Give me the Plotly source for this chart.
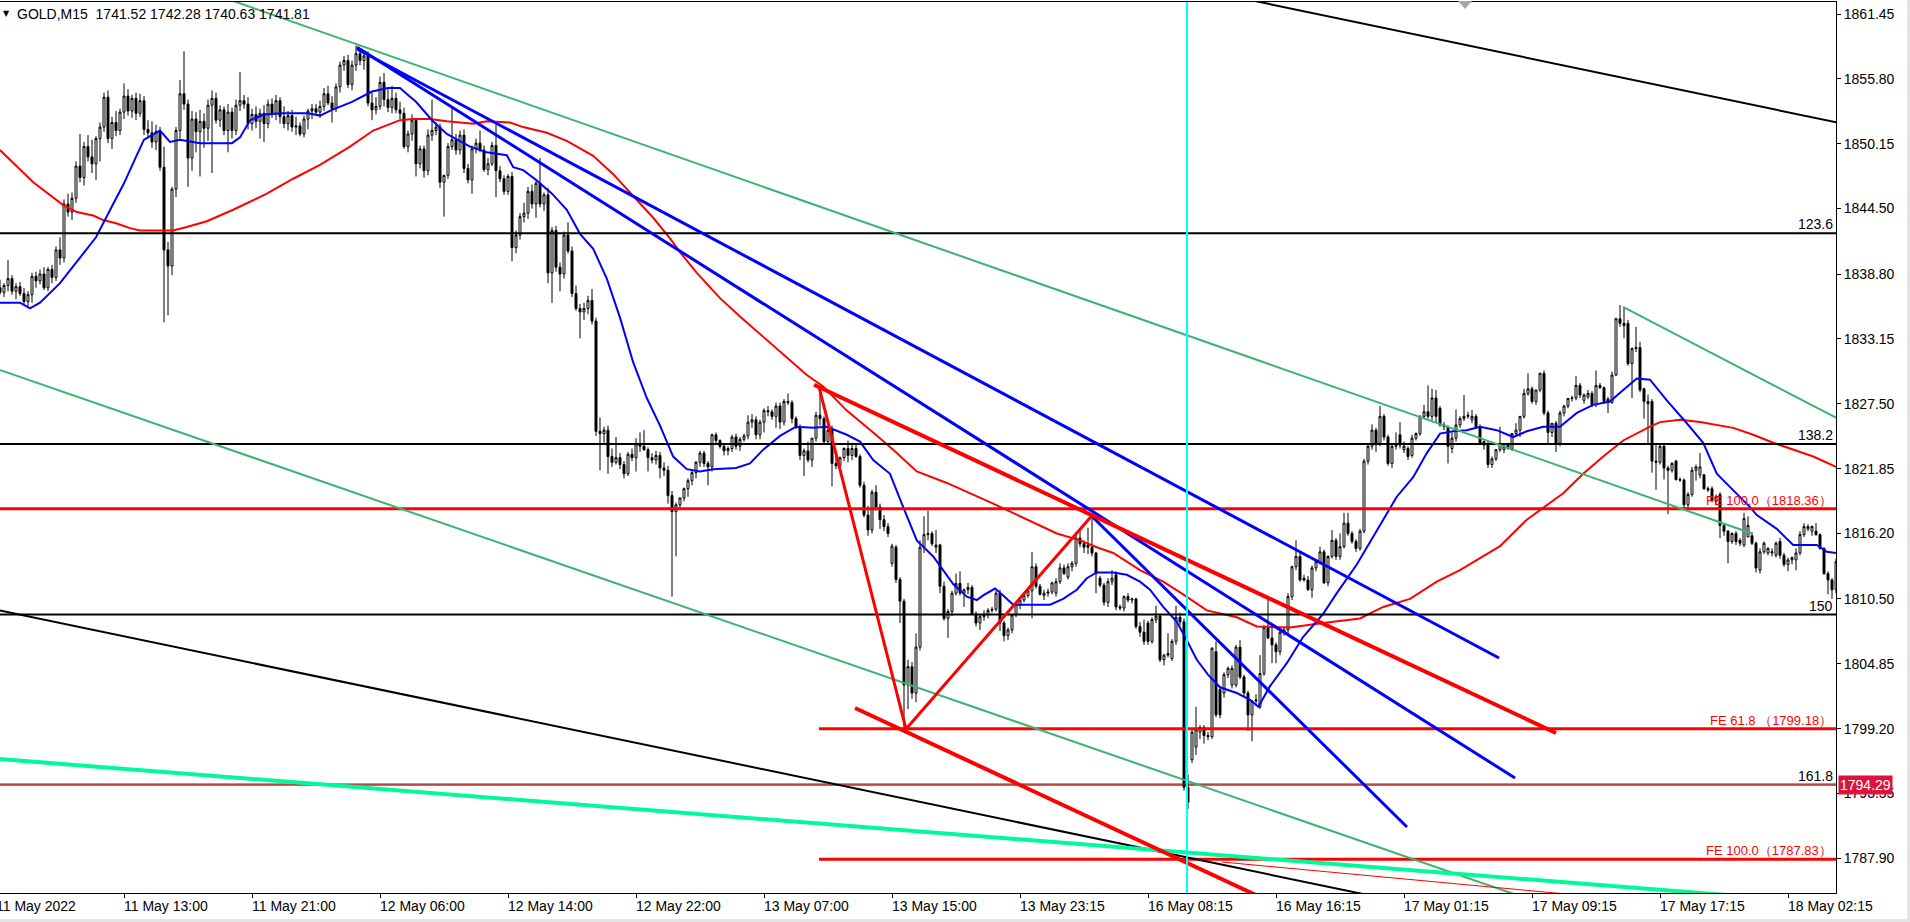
import plotly.graph_objects as go

# ---------------- data (bar index = one M15 bar) ----------------
opens = [
1837.6,1837.2,1837.8,1838.4,1837.3,1837.7,1837.1,1836.4,1837.0,1838.6,
1838.2,1838.8,1837.6,1839.2,1838.5,1840.9,1840.2,1844.9,1844.2,1845.4,
1848.2,1847.2,1849.9,1849.0,1848.4,1850.6,1851.6,1854.2,1850.6,1852.0,
1851.3,1852.9,1854.3,1853.0,1854.1,1852.8,1853.9,1851.4,1851.1,1850.3,
1851.2,1848.1,1840.9,1839.5,1846.2,1851.3,1854.5,1853.6,1848.9,1852.3,
1851.2,1852.1,1851.5,1853.5,1854.1,1852.2,1853.1,1851.3,1852.9,1851.3,
1853.5,1853.9,1853.6,1851.9,1852.7,1852.1,1852.8,1851.9,1853.6,1852.8,
1853.9,1852.5,1851.9,1852.6,1851.6,1851.7,1851.0,1852.3,1853.0,1853.2,
1852.9,1853.4,1854.5,1853.7,1853.2,1855.1,1857.0,1857.4,1855.3,1857.0,
1858.0,1857.4,1857.8,1853.7,1853.1,1853.4,1855.5,1854.0,1853.3,1854.1,
1853.1,1852.8,1849.9,1851.0,1852.2,1848.4,1849.7,1847.8,1850.9,1851.3,
1851.6,1846.8,1847.4,1849.9,1850.5,1849.6,1850.9,1848.0,1847.0,1849.7,
1850.2,1849.6,1847.9,1848.4,1850.0,1847.8,1847.1,1846.0,1847.3,1841.1,
1842.2,1843.8,1844.1,1846.0,1844.9,1846.7,1844.9,1845.7,1838.9,1842.6,
1839.4,1838.8,1842.2,1840.8,1837.1,1835.8,1835.5,1835.8,1836.5,1834.7,
1825.1,1824.9,1825.2,1822.9,1822.4,1822.8,1822.2,1821.4,1823.1,1822.8,
1824.0,1823.8,1823.5,1822.8,1822.6,1823.0,1821.9,1821.7,1819.5,1818.1,
1818.7,1819.3,1820.1,1820.8,1821.5,1822.4,1823.2,1822.3,1822.0,1824.8,
1824.3,1823.8,1823.4,1823.6,1824.6,1823.8,1824.4,1824.7,1825.9,1826.1,
1824.8,1825.9,1826.9,1826.8,1826.4,1827.3,1825.9,1827.7,1827.6,1826.2,
1825.5,1823.0,1823.4,1822.6,1824.5,1826.5,1826.2,1824.2,1825.2,1822.3,
1822.1,1822.8,1823.6,1823.0,1823.6,1822.9,1820.4,1817.8,1816.5,1819.8,
1818.5,1817.4,1816.8,1813.6,1815.0,1812.2,1810.3,1803.0,1804.6,1802.3,
1806.3,1815.0,1816.1,1816.2,1815.0,1815.2,1811.6,1808.8,1809.4,1811.0,
1811.85,1811.0,1811.3,1811.5,1809.2,1808.4,1808.95,1809.1,1809.5,1809.6,
1811.0,1808.4,1807.3,1807.8,1809.1,1810.0,1810.4,1810.8,1811.2,1813.3,
1811.6,1810.8,1811.0,1811.1,1811.0,1812.0,1813.2,1812.4,1813.3,1813.6,
1815.8,1815.3,1815.2,1815.0,1814.5,1812.3,1811.7,1810.2,1812.0,1812.6,
1809.8,1809.7,1810.7,1810.4,1810.5,1808.1,1807.6,1808.4,1806.8,1808.7,
1809.0,1805.2,1805.6,1805.3,1806.8,1808.9,1808.5,1794.1,1796.5,1797.6,
1798.9,1799.3,1798.6,1798.5,1805.9,1802.6,1802.3,1803.9,1803.0,1803.0,
1806.3,1803.7,1802.3,1800.4,1801.6,1801.1,1804.0,1808.0,1807.1,1806.5,
1805.9,1807.6,1807.8,1810.7,1813.3,1814.2,1812.3,1812.15,1811.3,1813.2,
1813.75,1814.6,1811.9,1814.2,1815.6,1814.2,1815.05,1817.1,1816.2,1815.5,
1814.9,1816.4,1822.5,1823.8,1825.2,1824.05,1826.4,1824.6,1822.3,1823.8,
1824.8,1823.5,1823.6,1823.0,1824.5,1824.9,1826.4,1826.8,1826.4,1828.0,
1827.1,1825.65,1825.5,1823.6,1824.5,1825.65,1826.2,1826.4,1826.1,1826.4,
1825.5,1823.9,1823.9,1822.2,1822.7,1823.5,1823.5,1823.9,1823.6,1824.9,
1825.2,1826.4,1828.4,1828.8,1827.7,1828.7,1830.15,1826.7,1825.0,1825.8,
1824.05,1826.7,1827.3,1827.96,1828.0,1829.1,1827.8,1828.1,1828.4,1827.4,
1829.1,1828.9,1827.9,1827.6,1830.0,1834.9,1834.5,1834.5,1831.0,1832.3,
1832.4,1828.8,1827.5,1827.7,1822.5,1822.4,1823.8,1821.9,1821.7,1822.5,
1820.9,1820.85,1818.7,1819.6,1821.7,1821.3,1821.3,1820.1,1820.1,1819.0,
1819.6,1816.9,1816.4,1815.5,1816.2,1815.6,1815.2,1815.9,1816.0,1815.35,
1813.0,1814.6,1814.5,1814.5,1814.3,1815.5,1814.3,1813.5,1813.9,1813.9,
1814.5,1816.1,1816.6,1816.4,1816.4,1816.1,1814.9,1812.7,1812.15,1811.3,
]
highs = [
1838.3,1838.0,1840.0,1838.7,1838.0,1838.1,1837.6,1837.3,1838.9,1839.0,
1839.2,1839.4,1839.4,1839.6,1841.2,1842.0,1845.3,1845.8,1845.9,1848.6,
1851.0,1850.3,1850.9,1850.5,1850.8,1852.0,1854.6,1854.8,1852.5,1853.0,
1853.2,1855.4,1854.9,1854.4,1854.6,1854.5,1854.3,1852.2,1852.1,1851.8,
1851.6,1849.9,1841.6,1846.4,1851.6,1855.7,1858.2,1854.0,1853.0,1852.9,
1853.1,1852.8,1854.0,1854.8,1854.6,1853.5,1853.4,1853.6,1853.3,1854.0,
1856.4,1854.4,1854.2,1853.2,1853.4,1853.2,1853.5,1854.0,1854.1,1854.4,
1854.2,1853.4,1853.0,1853.1,1852.5,1852.0,1852.6,1853.2,1853.6,1853.6,
1853.9,1855.0,1855.2,1854.3,1855.4,1857.3,1857.8,1857.9,1857.4,1858.7,
1858.4,1858.3,1858.2,1854.6,1854.2,1856.0,1856.3,1854.9,1855.2,1854.6,
1853.8,1853.3,1851.3,1852.7,1852.4,1850.0,1850.0,1851.4,1854.0,1852.0,
1851.9,1847.3,1850.2,1853.3,1851.0,1851.3,1851.4,1848.4,1850.0,1850.6,
1851.3,1850.0,1848.9,1850.3,1851.8,1848.2,1847.4,1847.5,1847.7,1842.6,
1844.1,1845.0,1846.4,1846.6,1846.9,1848.9,1845.9,1846.3,1842.9,1843.0,
1839.8,1842.5,1843.3,1841.2,1837.8,1836.2,1836.3,1836.9,1837.5,1835.0,
1826.3,1825.5,1825.6,1823.6,1824.6,1823.2,1822.5,1823.3,1823.6,1824.5,
1825.0,1825.2,1823.7,1823.2,1823.4,1823.3,1822.4,1822.1,1819.9,1818.9,
1819.3,1820.2,1821.0,1821.7,1822.5,1823.4,1823.4,1822.5,1824.9,1825.0,
1824.4,1824.0,1823.8,1824.8,1824.9,1824.6,1824.9,1826.5,1826.6,1826.4,
1826.1,1827.1,1827.3,1827.0,1827.6,1827.6,1827.9,1828.4,1827.8,1826.4,
1825.7,1823.6,1824.2,1824.5,1826.8,1829.0,1826.4,1825.4,1825.6,1823.4,
1822.9,1823.7,1824.3,1824.1,1824.0,1823.1,1820.7,1818.6,1820.0,1820.4,
1818.8,1817.8,1817.1,1815.3,1815.2,1812.4,1810.5,1805.2,1805.0,1807.5,
1815.6,1817.7,1818.2,1816.4,1816.5,1815.3,1812.0,1809.6,1811.2,1812.7,
1812.9,1811.4,1811.9,1811.7,1809.4,1809.1,1809.5,1809.7,1809.8,1811.2,
1811.3,1808.6,1808.0,1809.2,1810.1,1810.5,1811.0,1811.4,1814.6,1813.6,
1811.8,1811.3,1811.4,1812.0,1812.3,1813.6,1813.5,1813.6,1813.8,1816.3,
1816.5,1815.6,1816.7,1817.7,1814.6,1812.5,1811.9,1812.3,1813.0,1812.9,
1810.0,1810.8,1811.0,1810.6,1810.6,1808.5,1808.7,1808.6,1808.9,1809.9,
1809.2,1805.7,1807.5,1807.0,1809.9,1809.3,1808.8,1795.2,1799.2,1801.1,
1799.5,1799.5,1798.9,1806.3,1806.8,1802.9,1804.1,1804.6,1804.7,1806.5,
1806.9,1803.9,1802.5,1801.7,1802.2,1805.6,1808.2,1810.55,1808.3,1806.7,
1807.8,1808.0,1811.0,1813.4,1815.6,1814.5,1812.6,1812.5,1813.4,1813.9,
1815.05,1814.8,1814.3,1816.5,1815.8,1816.2,1818.0,1818.0,1816.4,1815.7,
1816.6,1822.7,1823.9,1825.7,1825.4,1827.3,1826.6,1824.8,1823.9,1825.0,
1825.9,1824.2,1823.8,1824.8,1825.0,1826.5,1827.4,1829.1,1828.8,1828.7,
1827.3,1825.9,1825.6,1825.0,1827.0,1826.4,1828.26,1826.8,1826.96,1826.6,
1825.7,1824.3,1824.2,1822.9,1823.5,1825.5,1823.9,1824.1,1824.9,1825.8,
1826.4,1828.8,1830.15,1829.0,1828.7,1830.2,1830.4,1826.9,1825.8,1826.0,
1826.9,1827.4,1828.0,1828.2,1829.9,1829.3,1828.4,1828.7,1828.6,1830.4,
1829.3,1829.0,1828.1,1830.3,1835.0,1836.1,1835.9,1834.8,1832.4,1834.2,
1832.9,1828.9,1828.3,1827.9,1824.1,1823.9,1824.0,1822.1,1822.4,1822.6,
1821.1,1821.0,1819.8,1822.0,1822.2,1823.2,1821.4,1820.3,1820.3,1819.6,
1819.8,1817.1,1816.5,1816.3,1816.4,1815.8,1818.0,1817.7,1816.3,1815.5,
1814.9,1815.5,1815.0,1814.9,1815.5,1815.8,1814.5,1814.1,1814.2,1814.9,
1816.4,1817.1,1817.0,1816.9,1817.1,1816.2,1815.0,1812.9,1812.3,1814.0,
]
lows = [
1837.0,1836.8,1837.3,1837.0,1836.6,1836.9,1836.1,1835.9,1836.3,1837.6,
1837.9,1837.4,1837.3,1838.0,1838.2,1839.6,1839.8,1843.8,1843.5,1845.0,
1846.8,1846.5,1848.6,1847.6,1847.0,1848.6,1851.2,1850.2,1849.7,1850.8,
1850.9,1852.3,1852.6,1852.4,1852.2,1852.5,1850.9,1850.6,1849.8,1849.6,
1847.8,1834.6,1835.2,1838.7,1845.5,1850.6,1853.1,1846.4,1847.8,1849.4,
1847.3,1849.8,1850.4,1847.6,1851.9,1851.6,1850.9,1849.4,1850.6,1850.9,
1853.0,1853.2,1851.4,1851.3,1851.5,1850.6,1850.3,1851.5,1852.4,1852.2,
1851.9,1851.5,1851.3,1851.2,1850.9,1850.8,1850.7,1851.4,1852.3,1852.6,
1852.4,1853.0,1853.5,1852.0,1852.9,1854.6,1856.5,1855.0,1854.8,1856.5,
1857.0,1856.6,1853.4,1852.2,1852.7,1853.1,1853.4,1852.9,1852.8,1852.8,
1852.3,1849.7,1849.4,1850.4,1847.3,1848.0,1847.2,1847.4,1850.4,1850.9,
1846.3,1843.8,1847.1,1849.6,1849.2,1849.2,1847.6,1846.7,1845.8,1849.3,
1849.4,1847.7,1847.4,1848.2,1845.5,1846.8,1845.7,1845.7,1839.9,1840.6,
1841.8,1843.3,1843.6,1844.5,1843.7,1844.6,1844.3,1838.0,1836.3,1839.0,
1837.3,1838.4,1840.6,1836.8,1835.6,1833.2,1834.8,1835.3,1834.4,1824.7,
1821.7,1824.1,1821.4,1822.0,1822.2,1821.8,1821.0,1821.2,1822.5,1821.6,
1823.3,1823.4,1821.6,1822.3,1822.2,1821.0,1821.2,1818.8,1810.7,1814.2,
1818.3,1819.0,1819.4,1820.4,1821.0,1822.0,1822.0,1820.4,1821.6,1824.0,
1823.6,1823.0,1823.0,1823.3,1823.5,1823.4,1824.2,1824.4,1825.4,1824.4,
1824.4,1825.0,1826.4,1826.1,1825.4,1825.3,1825.6,1827.4,1825.8,1825.3,
1822.6,1821.2,1822.4,1822.0,1824.2,1825.6,1824.0,1823.9,1820.3,1821.8,
1821.8,1822.5,1822.4,1822.6,1822.8,1820.2,1817.6,1816.0,1816.2,1818.2,
1816.6,1816.4,1815.9,1813.3,1811.9,1808.4,1799.1,1800.9,1801.8,1801.5,
1806.0,1814.5,1815.6,1815.1,1814.5,1811.0,1808.6,1807.1,1809.0,1810.8,
1810.8,1809.8,1810.9,1809.1,1808.1,1807.8,1808.6,1808.8,1809.3,1809.4,
1807.7,1806.8,1806.9,1807.5,1808.9,1809.6,1810.2,1810.6,1808.8,1811.4,
1810.8,1810.4,1810.7,1810.9,1810.7,1811.8,1812.6,1812.2,1812.9,1813.3,
1815.0,1814.5,1814.4,1814.2,1811.0,1811.5,1809.9,1809.8,1811.7,1809.5,
1809.5,1809.4,1810.2,1810.1,1807.9,1807.2,1806.5,1806.5,1806.6,1808.4,
1805.0,1804.7,1805.4,1805.1,1806.5,1808.2,1793.8,1792.2,1796.2,1796.9,
1798.3,1797.9,1798.2,1798.3,1800.2,1800.1,1801.9,1803.6,1802.7,1802.8,
1803.5,1802.0,1799.0,1798.1,1801.2,1800.9,1803.8,1807.0,1804.9,1804.9,
1805.6,1807.3,1807.5,1810.4,1813.0,1812.0,1812.0,1811.2,1810.6,1812.9,
1813.5,1811.8,1811.6,1814.0,1813.9,1813.9,1814.9,1816.0,1815.3,1814.6,
1814.7,1816.2,1822.2,1823.5,1823.3,1823.8,1824.3,1822.1,1821.9,1823.5,
1823.6,1823.2,1822.6,1822.8,1824.3,1824.7,1826.2,1826.2,1826.0,1825.9,
1825.5,1825.2,1822.3,1823.2,1824.2,1825.4,1826.0,1826.2,1825.8,1825.3,
1824.0,1823.5,1821.9,1821.9,1822.5,1823.3,1823.2,1823.5,1823.4,1824.7,
1824.6,1826.2,1828.2,1827.5,1827.4,1828.5,1826.5,1824.0,1824.6,1823.3,
1823.8,1826.4,1827.1,1827.7,1827.8,1828.0,1827.5,1827.9,1827.2,1827.2,
1828.8,1827.5,1826.7,1827.5,1829.9,1834.2,1833.2,1830.8,1828.0,1832.0,
1828.5,1826.2,1824.05,1821.5,1820.0,1822.2,1820.9,1817.9,1821.5,1820.8,
1820.7,1818.3,1818.4,1819.4,1820.8,1821.0,1820.0,1819.8,1818.9,1818.7,
1815.8,1816.0,1813.6,1815.3,1815.2,1815.1,1815.0,1815.9,1815.2,1812.8,
1812.7,1814.4,1814.3,1814.2,1814.1,1814.0,1813.3,1812.9,1813.5,1813.0,
1814.3,1815.9,1816.4,1816.0,1816.0,1814.8,1812.6,1810.9,1810.5,1811.0,
]
closes = [
1837.2,1837.8,1838.4,1837.3,1837.7,1837.1,1836.4,1837.0,1838.6,1838.2,
1838.8,1837.6,1839.2,1838.5,1840.9,1840.2,1844.9,1844.2,1845.4,1848.2,
1847.2,1849.9,1849.0,1848.4,1850.6,1851.6,1854.2,1850.6,1852.0,1851.3,
1852.9,1854.3,1853.0,1854.1,1852.8,1853.9,1851.4,1851.1,1850.3,1851.2,
1848.1,1840.9,1839.5,1846.2,1851.3,1854.5,1853.6,1848.9,1852.3,1851.2,
1852.1,1851.5,1853.5,1854.1,1852.2,1853.1,1851.3,1852.9,1851.3,1853.5,
1853.9,1853.6,1851.9,1852.7,1852.1,1852.8,1851.9,1853.6,1852.8,1853.9,
1852.5,1851.9,1852.6,1851.6,1851.7,1851.0,1852.3,1853.0,1853.2,1852.9,
1853.4,1854.5,1853.7,1853.2,1855.1,1857.0,1857.4,1855.3,1857.0,1858.0,
1857.4,1857.8,1853.7,1853.1,1853.4,1855.5,1854.0,1853.3,1854.1,1853.1,
1852.8,1849.9,1851.0,1852.2,1848.4,1849.7,1847.8,1850.9,1851.3,1851.6,
1846.8,1847.4,1849.9,1850.5,1849.6,1850.9,1848.0,1847.0,1849.7,1850.2,
1849.6,1847.9,1848.4,1850.0,1847.8,1847.1,1846.0,1847.3,1841.1,1842.2,
1843.8,1844.1,1846.0,1844.9,1846.7,1844.9,1845.7,1838.9,1842.6,1839.4,
1838.8,1842.2,1840.8,1837.1,1835.8,1835.5,1835.8,1836.5,1834.7,1825.1,
1824.9,1825.2,1822.9,1822.4,1822.8,1822.2,1821.4,1823.1,1822.8,1824.0,
1823.8,1823.5,1822.8,1822.6,1823.0,1821.9,1821.7,1819.5,1818.1,1818.7,
1819.3,1820.1,1820.8,1821.5,1822.4,1823.2,1822.3,1822.0,1824.8,1824.3,
1823.8,1823.4,1823.6,1824.6,1823.8,1824.4,1824.7,1825.9,1826.1,1824.8,
1825.9,1826.9,1826.8,1826.4,1827.3,1825.9,1827.7,1827.6,1826.2,1825.5,
1823.0,1823.4,1822.6,1824.5,1826.5,1826.2,1824.2,1825.2,1822.3,1822.1,
1822.8,1823.6,1823.0,1823.6,1822.9,1820.4,1817.8,1816.5,1819.8,1818.5,
1817.4,1816.8,1816.2,1815.1,1812.2,1810.3,1803.0,1804.6,1802.3,1806.3,
1815.0,1816.1,1816.2,1815.3,1815.2,1811.6,1808.8,1809.4,1811.0,1811.85,
1811.0,1811.3,1811.5,1809.2,1808.4,1808.95,1809.1,1809.5,1809.6,1811.0,
1808.4,1807.3,1807.8,1809.1,1810.0,1810.4,1810.8,1811.2,1813.3,1811.6,
1810.9,1811.0,1811.1,1811.9,1812.0,1813.2,1812.7,1813.3,1813.6,1815.8,
1815.3,1815.0,1815.0,1814.5,1812.7,1811.7,1810.2,1812.0,1812.3,1809.8,
1809.7,1810.7,1810.4,1810.5,1808.1,1807.6,1806.8,1806.8,1808.7,1809.0,
1805.2,1805.6,1805.75,1806.8,1808.9,1808.5,1794.1,1792.8,1798.9,1799.1,
1799.3,1798.6,1798.5,1806.2,1800.4,1800.4,1803.9,1804.45,1804.45,1806.3,
1803.7,1802.3,1800.4,1801.6,1801.7,1804.0,1808.0,1807.1,1806.5,1805.9,
1807.6,1807.8,1810.7,1813.3,1814.2,1812.15,1812.15,1811.3,1813.2,1813.75,
1814.6,1811.9,1814.2,1815.6,1814.2,1815.05,1817.1,1816.2,1815.5,1814.9,
1816.4,1822.5,1823.8,1825.2,1824.05,1826.4,1824.6,1822.3,1823.8,1823.9,
1823.9,1823.8,1822.9,1824.5,1824.9,1826.4,1826.8,1826.4,1828.0,1826.4,
1825.65,1825.5,1823.8,1824.5,1825.65,1826.2,1826.4,1826.5,1826.4,1825.5,
1824.05,1824.2,1822.2,1822.7,1823.5,1824.05,1823.8,1823.6,1824.9,1825.2,
1826.4,1828.4,1828.8,1827.7,1828.7,1830.15,1826.7,1825.0,1825.8,1824.05,
1826.7,1827.3,1827.96,1828.0,1829.1,1828.26,1828.26,1828.4,1827.4,1829.1,
1828.9,1827.7,1827.6,1830.0,1834.9,1834.5,1834.3,1831.0,1832.3,1832.4,
1828.7,1827.7,1827.7,1822.5,1822.4,1823.8,1821.9,1821.7,1822.3,1820.9,
1820.85,1818.7,1819.6,1821.7,1822.0,1822.0,1820.1,1820.0,1819.1,1819.4,
1816.9,1816.4,1815.5,1816.2,1815.5,1815.35,1817.5,1816.9,1815.35,1813.2,
1814.6,1815.35,1814.9,1814.6,1815.35,1814.3,1813.5,1813.9,1814.1,1814.5,
1816.1,1816.8,1816.8,1816.8,1816.1,1814.9,1812.7,1812.15,1811.3,1813.75,
]
bars = list(range(len(closes)))

# moving averages (sampled along the curve)
ma_fast_x = [0,5,7.5,10,15,20,24,28,31,34,36,40,42.5,45,50,58,60,62.5,66,71,77,80,83,88,93,97,100,102,104,108,111.7,117.5,121.7,126.7,128.3,130.8,134,138,141.7,145,148.3,151.7,155,158.3,161.7,165,168.3,171.7,175,178.3,184,187.5,190.8,195,199,203.3,206.7,211.7,215,218.3,222.5,225.8,229.2,233.3,238.3,241.7,244.2,245.8,248.75,250.8,253.3,257.5,262.5,265.8,269.2,271.7,274.2,278.3,281.7,285,287.5,290.8,294.2,296.7,299.2,302,305,309.2,312.5,314.6,317.5,321.7,325.8,330.8,334.2,339.2,344.2,349.2,353.3,356.7,360,363.3,366.7,370,374.2,378.3,381.7,385.8,390,394.2,398.3,402.5,405.8,409.2,412.5,416.7,421.7,425.8,429.2,433.3,437.5,439.2,444.2,448.3,454.2,456.7,459]
ma_fast_y = [1836.3,1836.3,1835.8,1836.3,1838.0,1840.2,1842.0,1844.7,1846.7,1849.0,1850.5,1851.3,1850.3,1850.5,1850.2,1850.2,1850.7,1852.2,1852.7,1852.8,1852.8,1852.6,1853.1,1853.8,1854.7,1855.0,1855.0,1854.4,1853.8,1852.2,1851.0,1849.9,1849.4,1849.15,1848.1,1847.85,1847.0,1845.8,1844.4,1842.3,1841.0,1838.4,1835.0,1831.1,1828.0,1825.6,1822.9,1821.8,1821.6,1821.8,1821.9,1822.3,1823.5,1824.7,1825.5,1825.4,1825.5,1824.8,1824.2,1822.6,1821.4,1818.5,1815.6,1814.2,1811.8,1810.7,1810.4,1810.8,1811.4,1810.8,1810.0,1810.0,1810.0,1810.5,1811.3,1812.3,1812.8,1812.8,1812.6,1812.0,1811.3,1809.8,1808.5,1806.9,1805.2,1803.9,1802.8,1802.3,1801.7,1801.1,1802.9,1804.9,1807.2,1809.2,1811.0,1813.5,1816.5,1819.4,1821.1,1823.2,1824.9,1825.1,1825.2,1825.5,1825.2,1824.6,1825.1,1825.5,1825.5,1826.7,1827.4,1827.7,1828.7,1829.7,1829.6,1827.8,1825.8,1824.1,1821.4,1820.0,1818.5,1817.8,1816.6,1815.2,1815.2,1814.6,1814.5]
ma_slow_x = [0,8.3,15.8,19.2,23.3,25.8,29.2,32.5,35,43.3,46.7,51.7,58.3,66.7,73.3,80,87.5,93.3,100,103.3,107.5,111.7,118.3,121.7,127.5,130.8,136.7,141.7,148.3,153.3,158.3,163.3,167.5,170,174.2,180,185,190.8,196.7,201.7,205.8,211.7,218.3,223.3,229.2,236.7,248.3,253.3,264.2,270,274.2,278.3,285,290.8,295.8,301.7,309.2,314.2,322.5,330.8,340,345.8,352.5,359.2,365,375,381.7,390.8,395.8,400.8,405.8,412.5,415,420,425,433.3,438.3,443.3,448.3,453.3,459]
ma_slow_y = [1849.6,1846.8,1844.8,1844.2,1843.9,1843.5,1843.2,1842.8,1842.6,1842.6,1842.9,1843.4,1844.4,1845.8,1847.1,1848.3,1849.9,1851.3,1852.2,1852.3,1852.3,1852.1,1851.9,1852.1,1852.0,1851.6,1851.1,1850.4,1849.1,1847.5,1845.6,1843.7,1841.9,1840.7,1838.9,1836.7,1835.1,1833.3,1831.5,1830.0,1829.0,1826.9,1825.0,1823.5,1821.6,1820.6,1818.8,1818.0,1816.2,1815.6,1815.0,1814.5,1813.0,1812.0,1810.9,1809.5,1808.9,1808.1,1808.0,1808.4,1808.8,1809.8,1810.5,1812.0,1813.0,1815.1,1817.4,1819.7,1821.4,1822.9,1824.3,1825.5,1825.9,1826.1,1825.9,1825.4,1824.8,1824.1,1823.5,1822.9,1822.0]

# drawn objects: endpoints as (bar, price)
green_upper = [(50, 1863.6), (438, 1816.2)]
green_short = [(405.75, 1835.93), (462, 1825.74)]
green_lower = [(-2, 1830.68), (400, 1782.2)]
black_upper = [(300, 1863.58), (462, 1851.8)]
black_lower = [(-2, 1809.63), (400, 1780.5)]
spring_line = [(-2, 1796.6), (450, 1784.2)]
thin_red = [(305.5, 1787.58), (400, 1784.52)]
blue_tl1 = [(89.25, 1858.4), (374.75, 1805.35)]
blue_tl2 = [(89.25, 1858.55), (378.75, 1794.9)]
blue_tl3 = [(272.9, 1817.72), (351.75, 1790.63)]
fe_points = [(204.75, 1828.96), (226.5, 1799.16), (272.9, 1817.72)]
red_ac = [(203.5, 1829.15), (389, 1798.82)]
red_par = [(213.75, 1801.0), (330, 1782.1)]

fib_levels = [1842.36, 1823.99, 1809.14, 1794.29]
fib_names = ["123.6", "138.2", "150", "161.8"]
fe_full = 1818.36
fe_partial = [1799.18, 1787.83]
fe_texts = ["FE 100.0\uff081818.36\uff09", "FE 61.8 \uff081799.18\uff09", "FE 100.0\uff081787.83\uff09"]
fe_text_levels = [1818.36, 1799.18, 1787.83]
vline_bar = 296.75
bid_price = 1794.29

ytick_vals = [1861.45, 1855.80, 1850.15, 1844.50, 1838.80, 1833.15, 1827.50, 1821.85, 1816.20, 1810.50, 1804.85, 1799.20, 1793.55, 1787.90]
xtick_bars = [-1, 31, 63, 95, 127, 159, 191, 223, 255, 287, 319, 351, 383, 415, 447]
xtick_text = ["11 May 2022", "11 May 13:00", "11 May 21:00", "12 May 06:00", "12 May 14:00", "12 May 22:00",
              "13 May 07:00", "13 May 15:00", "13 May 23:15", "16 May 08:15", "16 May 16:15",
              "17 May 01:15", "17 May 09:15", "17 May 17:15", "18 May 02:15"]
title_text = "GOLD,M15\u00a0\u00a01741.52 1742.28 1740.63 1741.81"

# ---------------- figure ----------------
X0, X1 = 0, 459
Y0, Y1 = 1784.882, 1862.495
FONT = "Liberation Sans"

fig = go.Figure()
fig.add_trace(go.Candlestick(
    x=bars, open=opens, high=highs, low=lows, close=closes,
    increasing=dict(line=dict(color="black", width=1), fillcolor="white"),
    decreasing=dict(line=dict(color="black", width=1), fillcolor="black"),
    whiskerwidth=0, hoverinfo="skip", showlegend=False))

def seg(pts, color, width):
    fig.add_trace(go.Scatter(x=[p[0] for p in pts], y=[p[1] for p in pts], mode="lines",
                             line=dict(color=color, width=width), hoverinfo="skip", showlegend=False))

fig.add_trace(go.Scatter(x=ma_slow_x, y=ma_slow_y, mode="lines", line=dict(color="#FF0000", width=2),
                         hoverinfo="skip", showlegend=False))
fig.add_trace(go.Scatter(x=ma_fast_x, y=ma_fast_y, mode="lines", line=dict(color="#0000FF", width=2),
                         hoverinfo="skip", showlegend=False))

# horizontal levels
for lv in fib_levels:
    seg([(X0 - 2, lv), (X1 + 2, lv)], "black", 2 if lv != bid_price else 1)
seg([(X0 - 2, bid_price + 0.09), (X1 + 2, bid_price + 0.09)], "#FF0000", 1)
seg([(X0 - 2, fe_full), (X1 + 2, fe_full)], "#FF0000", 3)
for lv in fe_partial:
    seg([(fe_points[0][0], lv), (X1 + 2, lv)], "#FF0000", 3)

# diagonal objects
seg(black_upper, "black", 2)
seg(black_lower, "black", 2)
seg(green_upper, "#3CB371", 2)
seg(green_lower, "#3CB371", 2)
seg(green_short, "#3CB371", 2)
seg(spring_line, "#00FA9A", 4)
seg(thin_red, "#FF0000", 1)
seg(blue_tl1, "#0000FF", 3)
seg(blue_tl2, "#0000FF", 3)
seg(blue_tl3, "#0000FF", 3)
seg(red_ac, "#FF0000", 4)
seg(red_par, "#FF0000", 4)
seg(fe_points, "#FF0000", 3)
seg([(vline_bar, Y0 - 1), (vline_bar, Y1 + 1)], "#00FFFF", 2)

W = 1836.0
H = 891.0
def py(pix):
    return 1 - (pix - 2) / H

ann = []
# title
ann.append(dict(xref="paper", yref="paper", x=1 / W, y=py(13), xanchor="left", yanchor="middle",
                text="\u25bc", showarrow=False, font=dict(family="DejaVu Sans", size=8, color="black")))
ann.append(dict(xref="paper", yref="paper", x=15 / W, y=py(14), xanchor="left", yanchor="middle",
                text=title_text, showarrow=False, font=dict(family=FONT, size=14, color="black")))
# x labels
for b, t in zip(xtick_bars, xtick_text):
    ann.append(dict(xref="paper", yref="paper", x=(b - X0) / (X1 - X0) - 2 / W, y=py(906),
                    xanchor="left", yanchor="middle", text=t, showarrow=False,
                    font=dict(family=FONT, size=14, color="black")))
# fib level labels
for lv, nm in zip(fib_levels, fib_names):
    ann.append(dict(xref="paper", yref="y", x=1 - 1 / W, y=lv, xanchor="right", yanchor="bottom",
                    text=nm, showarrow=False, yshift=-1, font=dict(family=FONT, size=14, color="black")))
for lv, tx in zip(fe_text_levels, fe_texts):
    ann.append(dict(xref="paper", yref="y", x=1 - 2 / W, y=lv, xanchor="right", yanchor="bottom",
                    text=tx, showarrow=False, yshift=-1, font=dict(family=FONT, size=13, color="#FF0000")))
# bid price label
ann.append(dict(xref="paper", yref="y", x=1, y=bid_price, xanchor="left", yanchor="middle", xshift=2,
                text="%.2f" % bid_price, showarrow=False, bgcolor="#DC143C", borderpad=1,
                font=dict(family=FONT, size=14, color="white")))

shapes = [
    dict(type="path", xref="paper", yref="paper",
         path="M %f %f L %f %f L %f %f Z" % (1458 / W, py(1), 1472 / W, py(1), 1465 / W, py(9)),
         fillcolor="#A8A8A8", line=dict(width=0)),
    dict(type="rect", xref="paper", yref="paper", x0=1907 / W, x1=1912 / W, y0=py(930), y1=py(-5),
         fillcolor="#E4E4E4", line=dict(width=0)),
    dict(type="rect", xref="paper", yref="paper", x0=-0.01, x1=1912 / W, y0=py(925), y1=py(919),
         fillcolor="#E4E4E4", line=dict(width=0)),
]

fig.update_layout(
    width=1910, height=922,
    margin=dict(l=0, r=74, t=2, b=29, pad=0),
    paper_bgcolor="white", plot_bgcolor="white",
    showlegend=False,
    font=dict(family=FONT, size=14, color="black"),
    annotations=ann, shapes=shapes,
    xaxis=dict(range=[X0, X1], showgrid=False, zeroline=False, showline=True, linecolor="black",
               linewidth=1, mirror=True, ticks="outside", ticklen=4, tickcolor="black",
               tickvals=xtick_bars, showticklabels=False, rangeslider=dict(visible=False), fixedrange=True),
    yaxis=dict(range=[Y0, Y1], side="right", showgrid=False, zeroline=False, showline=True,
               linecolor="black", linewidth=1, mirror=True, ticks="outside", ticklen=4,
               tickcolor="black", tickvals=ytick_vals, ticktext=["%.2f" % v for v in ytick_vals],
               tickfont=dict(family=FONT, size=14, color="black"), fixedrange=True),
)

fig.write_html("out.html",
               config={"displayModeBar": False},
               post_script="document.body.style.margin='0px';document.body.style.padding='0px';"
                           "document.body.style.overflow='hidden';")
